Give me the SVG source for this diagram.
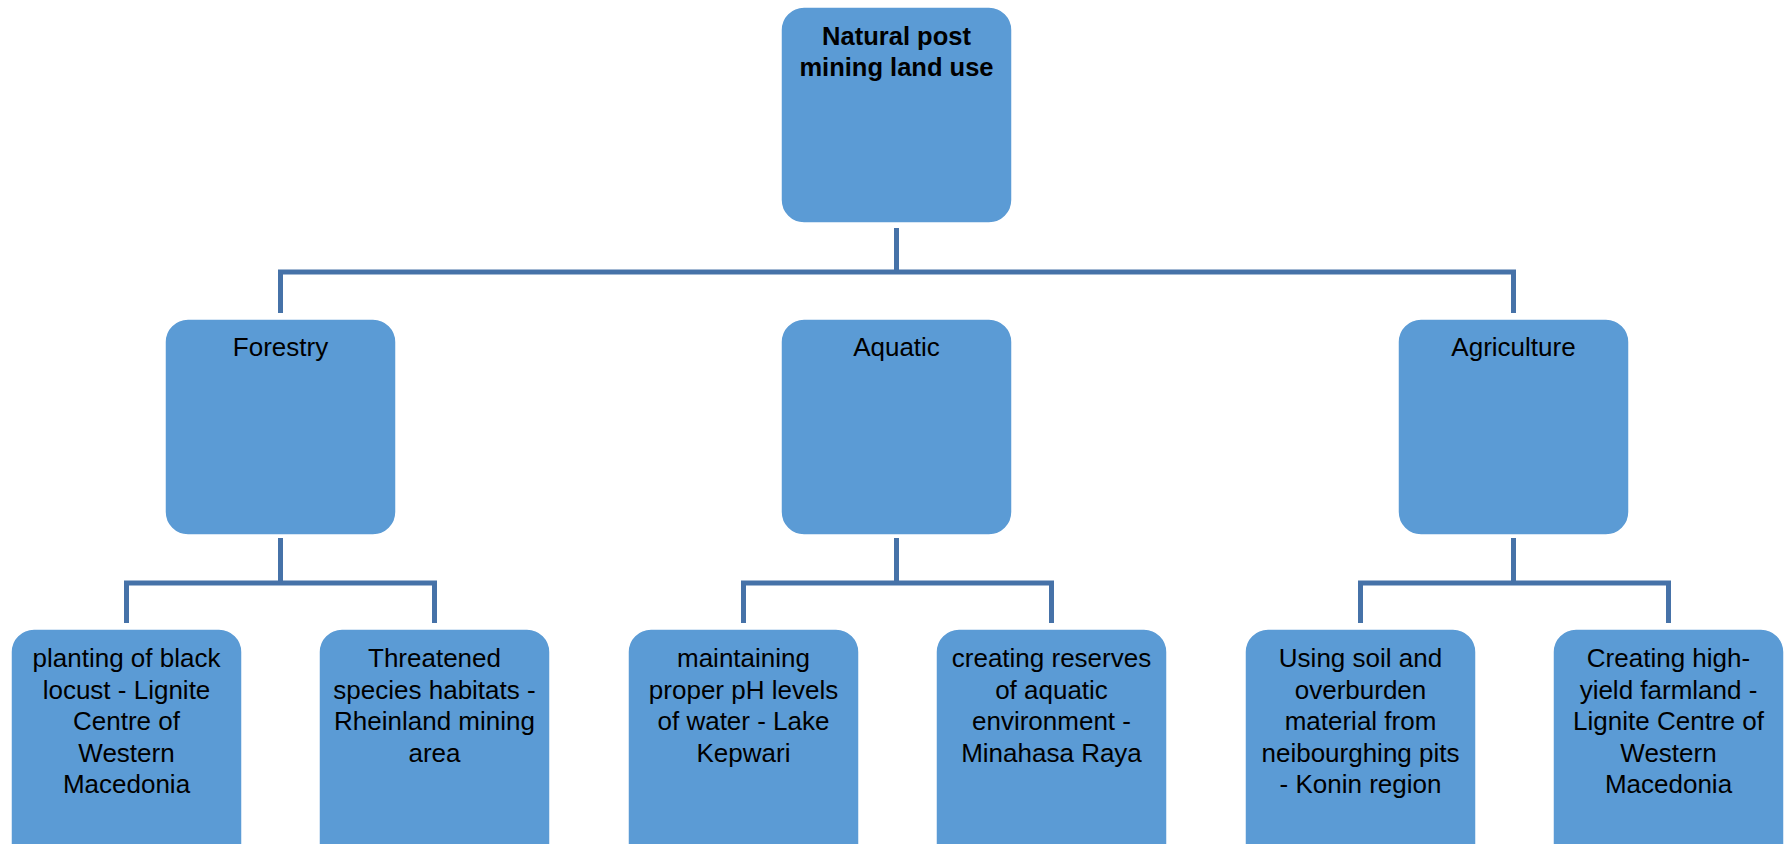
<svg xmlns="http://www.w3.org/2000/svg" width="1784" height="844" viewBox="0 0 1784 844">
<style>
.box{fill:#5B9BD5;stroke:#FFFFFF;stroke-width:1.5}
.conn{fill:none;stroke:#4672A8;stroke-width:5;stroke-linejoin:miter}
text{font-family:"Liberation Sans",Arial,sans-serif;font-size:26px;fill:#000;text-anchor:middle}
.title{font-weight:bold;font-size:25.5px}
</style>
<rect width="1784" height="844" fill="#FFFFFF"/>
<g id="connectors">
<path class="conn" d="M896.5,228 V272 M280.5,313 V272 H1513.5 V313"/>
<path class="conn" d="M280.5,538 V583 M126.5,623 V583 H434.5 V623"/>
<path class="conn" d="M896.5,538 V583 M743.5,623 V583 H1051.5 V623"/>
<path class="conn" d="M1513.5,538 V583 M1360.5,623 V583 H1668.5 V623"/>
</g>
<g id="root">
<rect class="box" x="781" y="7" width="231" height="216" rx="23"/>
<text class="title" x="896.5" y="45">Natural post</text>
<text class="title" x="896.5" y="76">mining land use</text>
</g>
<g id="forestry">
<rect class="box" x="165" y="319" width="231" height="216" rx="23"/>
<text x="280.5" y="356">Forestry</text>
</g>
<g id="aquatic">
<rect class="box" x="781" y="319" width="231" height="216" rx="23"/>
<text x="896.5" y="356">Aquatic</text>
</g>
<g id="agriculture">
<rect class="box" x="1398" y="319" width="231" height="216" rx="23"/>
<text x="1513.5" y="356">Agriculture</text>
</g>
<g id="black-locust">
<rect class="box" x="11" y="629" width="231" height="240" rx="23"/>
<text x="126.5" y="667">planting of black</text>
<text x="126.5" y="698.5">locust - Lignite</text>
<text x="126.5" y="730">Centre of</text>
<text x="126.5" y="761.5">Western</text>
<text x="126.5" y="793">Macedonia</text>
</g>
<g id="threatened-species">
<rect class="box" x="319" y="629" width="231" height="240" rx="23"/>
<text x="434.5" y="667">Threatened</text>
<text x="434.5" y="698.5">species habitats -</text>
<text x="434.5" y="730">Rheinland mining</text>
<text x="434.5" y="761.5">area</text>
</g>
<g id="ph-levels">
<rect class="box" x="628" y="629" width="231" height="240" rx="23"/>
<text x="743.5" y="667">maintaining</text>
<text x="743.5" y="698.5">proper pH levels</text>
<text x="743.5" y="730">of water - Lake</text>
<text x="743.5" y="761.5">Kepwari</text>
</g>
<g id="aquatic-reserves">
<rect class="box" x="936" y="629" width="231" height="240" rx="23"/>
<text x="1051.5" y="667">creating reserves</text>
<text x="1051.5" y="698.5">of aquatic</text>
<text x="1051.5" y="730">environment -</text>
<text x="1051.5" y="761.5">Minahasa Raya</text>
</g>
<g id="soil-overburden">
<rect class="box" x="1245" y="629" width="231" height="240" rx="23"/>
<text x="1360.5" y="667">Using soil and</text>
<text x="1360.5" y="698.5">overburden</text>
<text x="1360.5" y="730">material from</text>
<text x="1360.5" y="761.5">neibourghing pits</text>
<text x="1360.5" y="793">- Konin region</text>
</g>
<g id="farmland">
<rect class="box" x="1553" y="629" width="231" height="240" rx="23"/>
<text x="1668.5" y="667">Creating high-</text>
<text x="1668.5" y="698.5">yield farmland -</text>
<text x="1668.5" y="730">Lignite Centre of</text>
<text x="1668.5" y="761.5">Western</text>
<text x="1668.5" y="793">Macedonia</text>
</g>
</svg>
